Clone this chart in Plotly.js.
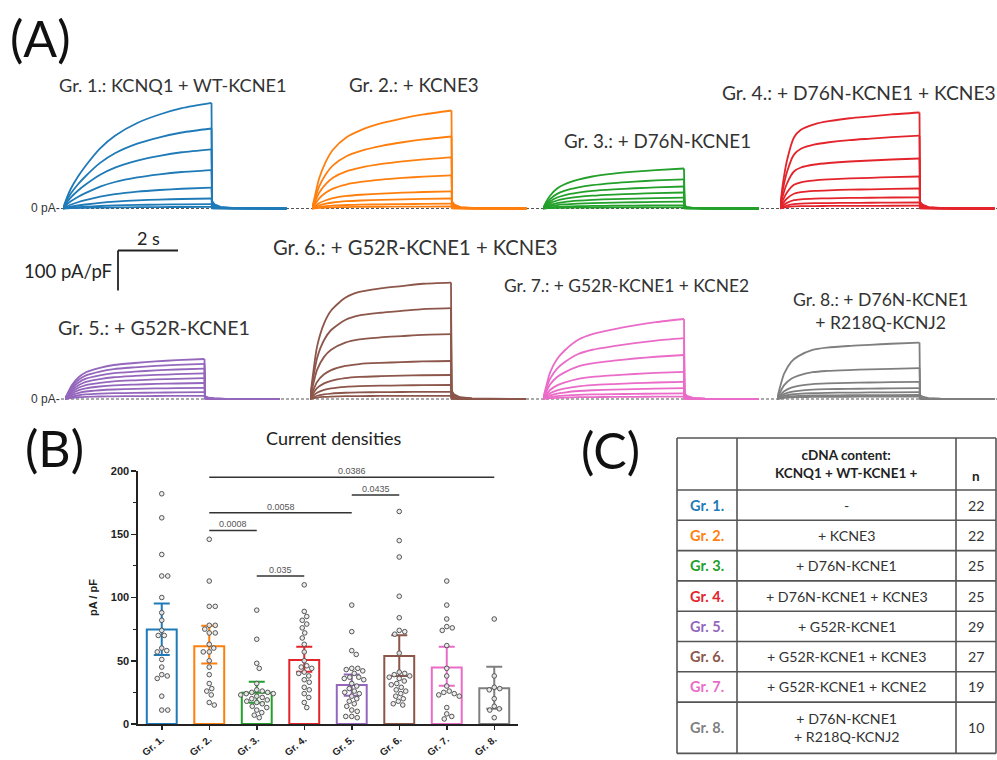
<!DOCTYPE html>
<html><head><meta charset="utf-8">
<script src="https://cdn.plot.ly/plotly-3.0.1.min.js"></script>
<style>html,body{margin:0;padding:0;background:#fff}#chart{width:997px;height:760px}</style>
</head><body><div id="chart"></div>
<script>
// ---------------- DATA ----------------
const groupLabels = ['Gr. 1.', 'Gr. 2.', 'Gr. 3.', 'Gr. 4.', 'Gr. 5.', 'Gr. 6.', 'Gr. 7.', 'Gr. 8.'];
const traceTitles = ['Gr. 1.: KCNQ1 + WT-KCNE1', 'Gr. 2.: + KCNE3', 'Gr. 3.: + D76N-KCNE1',
  'Gr. 4.: + D76N-KCNE1 + KCNE3', 'Gr. 5.: + G52R-KCNE1', 'Gr. 6.: + G52R-KCNE1 + KCNE3',
  'Gr. 7.: + G52R-KCNE1 + KCNE2', 'Gr. 8.: + D76N-KCNE1<br>+ R218Q-KCNJ2'];

// Panel A: steady-state amplitude of each sweep at the end of the pulse (pA/pF)
const sweepAmps1 = [264, 200, 148, 96, 52, 25, 11, 4];
const sweepAmps2 = [245, 180, 128, 83, 43, 25, 12, 5];
const sweepAmps3 = [100, 73, 55, 40, 27, 17, 8, 3];
const sweepAmps4 = [240, 182, 125, 80, 50, 28, 15, 7];
const sweepAmps5 = [100, 88, 76, 64, 52, 40, 28, 17, 8];
const sweepAmps6 = [291, 227, 162, 95, 60, 35, 18, 8];
const sweepAmps7 = [200, 152, 110, 68, 43, 27, 14, 6];
const sweepAmps8 = [141, 77, 43, 27, 17, 10, 6];
const pulseDur = [4.95, 4.65, 4.7, 4.65, 4.65, 4.7, 4.7, 4.75];
const activationTime = [0, 0.02, 0.05, 0.1, 0.15, 0.25, 0.35, 0.5, 0.65, 0.8, 1.0];
const activation1 = [0, 0.08, 0.18, 0.30, 0.40, 0.57, 0.69, 0.81, 0.89, 0.95, 1.0];
const activation2 = [0, 0.12, 0.30, 0.48, 0.60, 0.73, 0.80, 0.87, 0.92, 0.96, 1.0];
const activation3 = [0, 0.15, 0.32, 0.50, 0.60, 0.72, 0.80, 0.87, 0.92, 0.96, 1.0];
const activation4 = [0, 0.25, 0.50, 0.74, 0.82, 0.88, 0.91, 0.94, 0.96, 0.98, 1.0];
const activation5 = [0, 0.15, 0.35, 0.55, 0.67, 0.78, 0.85, 0.90, 0.94, 0.97, 1.0];
const activation6 = [0, 0.20, 0.45, 0.65, 0.76, 0.87, 0.92, 0.95, 0.97, 0.99, 1.0];
const activation7 = [0, 0.14, 0.33, 0.50, 0.60, 0.74, 0.81, 0.87, 0.92, 0.96, 1.0];
const activation8 = [0, 0.20, 0.45, 0.66, 0.76, 0.87, 0.91, 0.94, 0.96, 0.98, 1.0];
// tail (s after pulse end) and relative current
const tailTime = [0, 0.02, 0.1, 0.3, 0.7, 1.2, 2.5];
const tailShape = [1, 0.07, 0.04, 0.015, 0.005, 0.002, 0];
const scaleBarTime = 2;      // s
const scaleBarCurrent = 100; // pA/pF

// Panel B: current densities (pA/pF)
const meanDensity = [74.7, 61.5, 24.7, 50.5, 30.8, 53.7, 44.7, 28.2];
const ciUpper = [95.2, 77.6, 33.4, 61.0, 39.2, 70.2, 61.0, 45.2];
const ciLower = [54.5, 47.9, 16.8, 41.3, 22.4, 37.9, 30.3, 12.0];
const cells1 = [182, 163, 134, 117, 117, 100, 88, 82, 74, 70, 70, 60, 58, 57, 51, 45, 39, 38, 36, 22, 11, 11];
const cells2 = [146, 113, 93, 93, 78, 78, 75, 72, 72, 63, 60, 57, 57, 50, 45, 39, 32, 28, 26, 23, 17, 15];
const cells3 = [90, 67, 48, 44, 32, 27, 26, 25, 25, 24, 24, 23, 22, 21, 20, 19, 18, 17, 16, 14, 13, 11, 9, 7, 5];
const cells4 = [110, 89, 85, 82, 79, 76, 72, 68, 63, 57, 50, 46, 45, 44, 41, 40, 38, 35, 33, 29, 27, 24, 21, 17, 13];
const cells5 = [94, 73, 58, 55, 44, 44, 43, 42, 40, 37, 37, 36, 35, 32, 30, 28, 26, 25, 24, 22, 20, 18, 16, 14, 11, 10, 6, 6, 5];
const cells6 = [168, 145, 132, 101, 84, 74, 73, 71, 56, 41, 40, 39, 38, 37, 36, 34, 32, 31, 29, 27, 26, 24, 22, 20, 18, 16, 15];
const cells7 = [113, 94, 83, 77, 76, 74, 62, 44, 38, 30, 26, 25, 24, 23, 22, 13, 8, 6, 4];
const cells8 = [83, 38, 29, 28, 27, 20, 14, 12, 11, 5];
// significance comparisons (group indices, 0-based) and p-values
const sigFrom = [2, 1, 1, 4, 1];
const sigTo = [3, 2, 4, 5, 7];
const sigP = ['0.035', '0.0008', '0.0058', '0.0435', '0.0386'];

// Panel C
const tableHeader = ['', 'cDNA content:<br>KCNQ1 + WT-KCNE1 +', 'n'];
const cdnaContent = ['-', '+ KCNE3', '+ D76N-KCNE1', '+ D76N-KCNE1 + KCNE3', '+ G52R-KCNE1',
  '+ G52R-KCNE1 + KCNE3', '+ G52R-KCNE1 + KCNE2', '+ D76N-KCNE1<br>+ R218Q-KCNJ2'];
const nCells = [22, 22, 25, 25, 29, 27, 19, 10];

// ---------------- STYLE / LAYOUT ----------------
const groupColors = ['#1f7ab8', '#ff7f0e', '#22a02a', '#e3242b', '#9467bd', '#8c564b', '#ea6cc8', '#7f7f7f'];
const sweepAmps = [sweepAmps1, sweepAmps2, sweepAmps3, sweepAmps4, sweepAmps5, sweepAmps6, sweepAmps7, sweepAmps8];
const activation = [activation1, activation2, activation3, activation4, activation5, activation6, activation7, activation8];
const cells = [cells1, cells2, cells3, cells4, cells5, cells6, cells7, cells8];

const W = 997, H = 760;
const fx = p => p / W;
const fy = p => 1 - p / H;
const PX_PER_S = 30, PX_PER_UNIT = 0.4;
const traceStartPx = [63, 312, 543, 780, 65, 310, 543, 777];
const rowOf = [0, 0, 0, 0, 1, 1, 1, 1];
const rowBase = [208.5, 399];
const rowTop = [86, 232];
const rowBottom = [216, 406];
const titlePos = [[173, 85], [414, 85], [657, 140], [859, 92], [154, 327], [415, 247], [626, 285], [880, 311]];
const titleSize = [18.2, 18.8, 18.8, 19.2, 19.6, 20.2, 17.4, 17.6];
const labelFont = 'Lato, "Open Sans", sans-serif';
const arialFont = '"Liberation Sans", Arial, sans-serif';

const data = [];
const layout = {
  width: W, height: H, margin: {l: 0, r: 0, t: 0, b: 0, pad: 0},
  paper_bgcolor: '#fff', plot_bgcolor: 'rgba(0,0,0,0)', showlegend: false,
  barmode: 'overlay', shapes: [], annotations: []
};

// Panel A
for (let g = 0; g < 8; g++) {
  const sfx = g === 0 ? '' : String(g + 1);
  const r = rowOf[g];
  const tEnd = pulseDur[g] + tailTime[tailTime.length - 1];
  const x0 = traceStartPx[g];
  const x1 = Math.min(W, x0 + (tEnd + 0.1) * PX_PER_S);
  layout['xaxis' + sfx] = {domain: [fx(x0), fx(x1)], range: [0, (x1 - x0) / PX_PER_S], visible: false,
    anchor: 'y' + sfx, fixedrange: true};
  layout['yaxis' + sfx] = {domain: [fy(rowBottom[r]), fy(rowTop[r])],
    range: [-(rowBottom[r] - rowBase[r]) / PX_PER_UNIT, (rowBase[r] - rowTop[r]) / PX_PER_UNIT],
    visible: false, anchor: 'x' + sfx, fixedrange: true};
  const ax = [], ay = [], tx = [], ty = [];
  sweepAmps[g].forEach(a => {
    activationTime.forEach((f, i) => { ax.push(f * pulseDur[g]); ay.push(a * activation[g][i]); });
    ax.push(null); ay.push(null);
    tailTime.forEach((t, i) => { tx.push(pulseDur[g] + t); ty.push(a * tailShape[i]); });
    tx.push(null); ty.push(null);
  });
  data.push({type: 'scatter', mode: 'lines', x: ax, y: ay, xaxis: 'x' + sfx, yaxis: 'y' + sfx,
    line: {color: groupColors[g], width: 1.8, shape: 'spline', smoothing: 0.7}, hoverinfo: 'skip'});
  data.push({type: 'scatter', mode: 'lines', x: tx, y: ty, xaxis: 'x' + sfx, yaxis: 'y' + sfx,
    line: {color: groupColors[g], width: 1.8}, hoverinfo: 'skip'});
  layout.annotations.push({xref: 'paper', yref: 'paper', x: fx(titlePos[g][0]), y: fy(titlePos[g][1]),
    text: traceTitles[g], showarrow: false, xanchor: 'center', yanchor: 'middle',
    font: {family: labelFont, size: titleSize[g], color: '#333'}});
}
// zero lines
[0, 1].forEach(r => {
  layout.shapes.push({type: 'line', xref: 'paper', yref: 'paper', x0: fx(61), x1: 1, y0: fy(rowBase[r]), y1: fy(rowBase[r]),
    line: {color: '#555', width: 1, dash: '3px,2px'}, layer: 'below'});
  layout.annotations.push({xref: 'paper', yref: 'paper', x: fx(62), y: fy(rowBase[r]), text: '0 pA-',
    showarrow: false, xanchor: 'right', yanchor: 'middle', font: {family: arialFont, size: 12, color: '#333'}});
});
// scale bar in Gr. 5 axes
{
  const sx = (118 - traceStartPx[4]) / PX_PER_S;
  const sy = (rowBase[1] - 250.5) / PX_PER_UNIT;
  layout.shapes.push({type: 'line', xref: 'x5', yref: 'y5', x0: sx, x1: sx + scaleBarTime, y0: sy, y1: sy, line: {color: '#222', width: 1.8}});
  layout.shapes.push({type: 'line', xref: 'x5', yref: 'y5', x0: sx, x1: sx, y0: sy, y1: sy - scaleBarCurrent, line: {color: '#222', width: 1.8}});
  layout.annotations.push({xref: 'x5', yref: 'y5', x: sx + scaleBarTime / 2, y: sy, yanchor: 'bottom', text: scaleBarTime + ' s',
    showarrow: false, font: {family: labelFont, size: 18, color: '#222'}});
  layout.annotations.push({xref: 'x5', yref: 'y5', x: sx, y: sy - scaleBarCurrent / 2, xanchor: 'right', xshift: -4,
    text: scaleBarCurrent + ' pA/pF', showarrow: false, font: {family: labelFont, size: 18.5, color: '#222'}});
}

// Panel B
layout.xaxis9 = {domain: [fx(138), fx(518)], range: [-0.5, 7.5], anchor: 'y9', tickvals: [0, 1, 2, 3, 4, 5, 6, 7],
  ticktext: groupLabels, tickangle: -40, ticks: 'outside', ticklen: 4, tickwidth: 1.5, tickcolor: '#222',
  showline: true, linewidth: 1.6, linecolor: '#222', showgrid: false, zeroline: false, automargin: false,
  tickfont: {family: arialFont, size: 10, color: '#222', weight: 'bold'}, fixedrange: true};
layout.yaxis9 = {domain: [fy(724), fy(471)], range: [0, 200], anchor: 'x9', dtick: 50, ticks: 'outside', ticklen: 5,
  tickwidth: 1.5, tickcolor: '#222', showline: true, linewidth: 1.6, linecolor: '#222', showgrid: false, zeroline: false,
  minor: {ticks: 'outside', ticklen: 3, dtick: 25, tickcolor: '#222', tickwidth: 1}, automargin: false,
  tickfont: {family: arialFont, size: 11, color: '#222', weight: 'bold'},
  title: {text: 'pA / pF', font: {family: arialFont, size: 11, color: '#222', weight: 'bold'}, standoff: 11}, fixedrange: true};

const pxPerUnitX = (518 - 138) / 8, pxPerUnitY = (724 - 471) / 200;
function swarm(vals) {
  const D = 5.6;
  const order = vals.map((v, i) => i).sort((a, b) => vals[b] - vals[a]);
  const placed = [], off = new Array(vals.length).fill(0);
  order.forEach(i => {
    const y = vals[i] * pxPerUnitY;
    let best = 0, found = false;
    for (let s = 0; s < 40 && !found; s += 0.5) {
      for (const sign of (s === 0 ? [1] : [1, -1])) {
        const x = s * sign;
        if (placed.every(p => Math.hypot(p.x - x, p.y - y) >= D)) { best = x; found = true; break; }
      }
    }
    placed.push({x: best, y}); off[i] = best;
  });
  return off;
}
for (let g = 0; g < 8; g++) {
  data.push({type: 'bar', x: [g], y: [meanDensity[g]], width: 0.63, xaxis: 'x9', yaxis: 'y9',
    marker: {color: 'rgba(255,255,255,0)', line: {color: groupColors[g], width: 2}},
    error_y: {type: 'data', symmetric: false, array: [ciUpper[g] - meanDensity[g]], arrayminus: [meanDensity[g] - ciLower[g]],
      color: groupColors[g], thickness: 2, width: 8}, hoverinfo: 'skip'});
}
for (let g = 0; g < 8; g++) {
  const off = swarm(cells[g]);
  data.push({type: 'scatter', mode: 'markers', x: cells[g].map((v, i) => g + off[i] / pxPerUnitX), y: cells[g],
    xaxis: 'x9', yaxis: 'y9', cliponaxis: false,
    marker: {symbol: 'circle', size: 4.6, color: 'rgba(235,235,235,0.9)', line: {color: '#555', width: 1}}, hoverinfo: 'skip'});
}
// significance bars
const sigLevel = [];
sigP.forEach((p, k) => {
  let m = 0;
  for (let g = sigFrom[k]; g <= sigTo[k]; g++) m = Math.max(m, ...cells[g], ciUpper[g]);
  let lvl = m + 7;
  for (let j = 0; j < k; j++) {
    if (sigFrom[j] <= sigTo[k] && sigTo[j] >= sigFrom[k]) lvl = Math.max(lvl, sigLevel[j] + 14);
  }
  sigLevel.push(lvl);
  layout.shapes.push({type: 'line', xref: 'x9', yref: 'y9', x0: sigFrom[k], x1: sigTo[k], y0: lvl, y1: lvl,
    line: {color: '#333', width: 1.5}});
  layout.annotations.push({xref: 'x9', yref: 'y9', x: (sigFrom[k] + sigTo[k]) / 2, y: lvl, yanchor: 'bottom', yshift: -1,
    text: p, showarrow: false, font: {family: arialFont, size: 9, color: '#555'}});
});
layout.annotations.push({xref: 'paper', yref: 'paper', x: fx(333), y: fy(438), text: 'Current densities', showarrow: false,
  font: {family: labelFont, size: 18, color: '#222'}});

// Panel labels
[['(A)', 8, 38], ['(B)', 23, 448], ['(C)', 579, 450]].forEach(([t, x, y]) => {
  layout.annotations.push({xref: 'paper', yref: 'paper', x: fx(x), y: fy(y), text: t, showarrow: false,
    xanchor: 'left', yanchor: 'middle', font: {family: labelFont, size: 50, color: '#111'}});
});

// Panel C table (ruled grid + centred text)
const tableCols = [677, 737, 956, 996];
const tableTop = 438, headerH = 52, rowH = 30.3, extraLineH = 21;
const tableLine = {color: '#555', width: 1.6};
const hline = y => layout.shapes.push({type: 'line', xref: 'paper', yref: 'paper', x0: fx(tableCols[0]), x1: fx(tableCols[3]),
  y0: fy(y), y1: fy(y), line: tableLine});
const cellText = (col, yMid, text, font) => layout.annotations.push({xref: 'paper', yref: 'paper',
  x: fx((tableCols[col] + tableCols[col + 1]) / 2), y: fy(yMid), text, showarrow: false, xanchor: 'center', yanchor: 'middle',
  font});
hline(tableTop);
cellText(1, tableTop + headerH / 2, '<b>' + tableHeader[1].split('<br>').join('</b><br><b>') + '</b>',
  {family: labelFont, size: 13.5, color: '#222', lineposition: 'none'});
cellText(2, tableTop + headerH - 14, '<b>' + tableHeader[2] + '</b>', {family: labelFont, size: 13.5, color: '#222'});
let yCur = tableTop + headerH;
hline(yCur);
groupLabels.forEach((lab, g) => {
  const lines = cdnaContent[g].split('<br>').length;
  const h = rowH + extraLineH * (lines - 1);
  const mid = yCur + h / 2;
  cellText(0, mid, '<b>' + lab + '</b>', {family: labelFont, size: 14.5, color: groupColors[g]});
  cellText(1, mid, cdnaContent[g], {family: labelFont, size: 14.2, color: '#333'});
  cellText(2, mid, String(nCells[g]), {family: labelFont, size: 14.2, color: '#333'});
  yCur += h;
  hline(yCur);
});
tableCols.forEach(x => layout.shapes.push({type: 'line', xref: 'paper', yref: 'paper', x0: fx(x), x1: fx(x),
  y0: fy(tableTop), y1: fy(yCur), line: tableLine}));

Plotly.newPlot('chart', data, layout, {staticPlot: true, displayModeBar: false});
</script>
</body></html>
